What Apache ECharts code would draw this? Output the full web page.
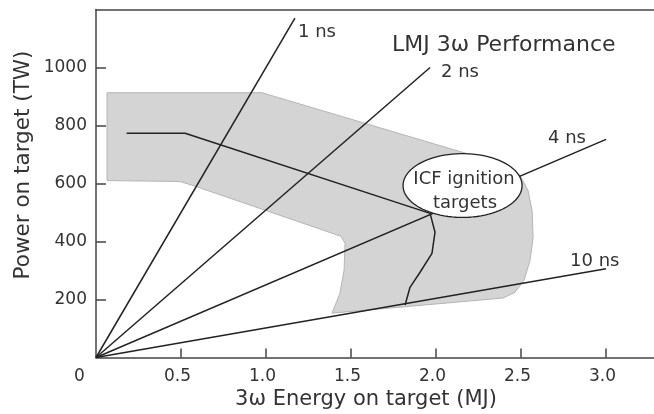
<!DOCTYPE html>
<html><head><meta charset="utf-8">
<script src="https://cdn.jsdelivr.net/npm/echarts@6/dist/echarts.min.js"></script>
<style>html,body{margin:0;padding:0;background:#fff}#c{width:654px;height:414px}</style>
</head><body><div id="c"></div>
<script>
// ---- data ----
const xTickValues = [0.5, 1.0, 1.5, 2.0, 2.5, 3.0];
const xTickLabels = ['0.5', '1.0', '1.5', '2.0', '2.5', '3.0'];
const yTickValues = [200, 400, 600, 800, 1000];
const yTickLabels = ['200', '400', '600', '800', '1000'];
const nsLabels = ['1 ns', '2 ns', '4 ns', '10 ns'];
const nsEndX = [1.17, 1.965, 3.0, 3.0];
const nsEndY = [1170, 1000, 752, 306];
// shaded LMJ performance envelope (outline)
const bandX = [0.065, 0.976, 2.182, 2.406, 2.494, 2.541, 2.565, 2.571, 2.553, 2.518, 2.465, 2.394, 1.388, 1.435, 1.459, 1.465, 1.441, 1.406, 0.571, 0.494, 0.065];
const bandY = [913, 913, 703, 664, 628, 576, 507, 414, 335, 267, 225, 205, 153, 222, 301, 394, 418, 425, 593, 607, 610];
// nominal performance curve
const curveX = [0.18, 0.524, 1.965, 1.994, 1.976, 1.906, 1.847, 1.818];
const curveY = [773, 773, 497, 432, 359, 294, 242, 181];
// ICF ignition target zone (ellipse centre and radii)
const icfCenter = [2.156, 593];
const icfRadius = [0.35, 110];
const icfText = ['ICF ignition', 'targets'];
const titleText = 'LMJ 3\u03c9 Performance';
const xName = '3\u03c9 Energy on target (MJ)';
const yName = 'Power on target (TW)';

const FONT = 'DejaVu Sans';
const TXT = '#333';
const XMAX = 3.282;
const chart = echarts.init(document.getElementById('c'), null, {renderer: 'canvas'});

const nsSeries = nsLabels.map((n, i) => ({
  type: 'line', name: n, data: [[0, 0], [nsEndX[i], nsEndY[i]]],
  symbol: 'none', lineStyle: {color: '#222', width: 1.5}, z: 3, silent: true
}));

const option = {
  animation: false,
  grid: {left: 96, right: 0, top: 9.5, bottom: 56.5},
  xAxis: [{
    type: 'value', min: 0, max: XMAX,
    axisLine: {lineStyle: {color: '#444', width: 1.5}},
    axisTick: {inside: true, length: 9, customValues: xTickValues, lineStyle: {color: '#444', width: 1.5}},
    axisLabel: {
      margin: 11, color: TXT, fontFamily: FONT, fontSize: 17,
      padding: [0, 7, 0, 0], customValues: xTickValues,
      formatter: v => { const i = xTickValues.findIndex(t => Math.abs(t - v) < 1e-6); return i >= 0 ? xTickLabels[i] : ''; }
    },
    splitLine: {show: false}
  }, {
    type: 'value', position: 'top', min: 0, max: XMAX,
    axisLine: {show: true, lineStyle: {color: '#444', width: 1.5}},
    axisTick: {show: false}, axisLabel: {show: false}, splitLine: {show: false}
  }],
  yAxis: {
    type: 'value', min: 0, max: 1200,
    axisLine: {lineStyle: {color: '#444', width: 1.5}},
    axisTick: {inside: true, length: 10, customValues: yTickValues, lineStyle: {color: '#444', width: 1.5}},
    axisLabel: {
      margin: 9, color: TXT, fontFamily: FONT, fontSize: 17, customValues: yTickValues,
      formatter: v => { const i = yTickValues.findIndex(t => Math.abs(t - v) < 1e-6); return i >= 0 ? yTickLabels[i] : ''; }
    },
    splitLine: {show: false}
  },
  series: [
    {
      type: 'custom', name: 'envelope', data: [0], z: 1, silent: true,
      renderItem: (params, api) => ({
        type: 'polygon',
        shape: {points: bandX.map((x, i) => api.coord([x, bandY[i]]))},
        style: {fill: '#d4d4d4', stroke: '#b4b4b4', lineWidth: 1}
      })
    },
    ...nsSeries,
    {
      type: 'line', name: 'performance', data: curveX.map((x, i) => [x, curveY[i]]),
      symbol: 'none', lineStyle: {color: '#222', width: 1.5}, z: 3, silent: true
    },
    {
      type: 'custom', name: 'icf', data: [0], z: 5, silent: true,
      renderItem: (params, api) => {
        const c = api.coord(icfCenter);
        const s = api.size([icfRadius[0], icfRadius[1]]);
        const pts = [];
        for (let k = 0; k < 90; k++) {
          const a = k / 90 * Math.PI * 2;
          pts.push([c[0] + s[0] * Math.cos(a), c[1] + s[1] * Math.sin(a)]);
        }
        return {type: 'polygon', shape: {points: pts}, style: {fill: '#fff', stroke: '#222', lineWidth: 1.3}};
      }
    }
  ],
  graphic: [
    {type: 'text', left: 74, top: 368, z: 10, style: {text: '0', fontFamily: FONT, fontSize: 17, fill: TXT}},
    {type: 'text', x: 366, y: 400, z: 10, style: {text: xName, fontFamily: FONT, fontSize: 21, fill: TXT, align: 'center', verticalAlign: 'middle'}},
    {type: 'text', x: 23, y: 165, rotation: Math.PI / 2, z: 10, style: {text: yName, fontFamily: FONT, fontSize: 21.5, fill: TXT, align: 'center', verticalAlign: 'middle'}},
    {type: 'text', x: 392, y: 45, z: 10, style: {text: titleText, fontFamily: FONT, fontSize: 22, fill: TXT, align: 'left', verticalAlign: 'middle'}},
    {type: 'text', x: 298, y: 32, z: 10, style: {text: nsLabels[0], fontFamily: FONT, fontSize: 18, fill: TXT, align: 'left', verticalAlign: 'middle'}},
    {type: 'text', x: 441, y: 72, z: 10, style: {text: nsLabels[1], fontFamily: FONT, fontSize: 18, fill: TXT, align: 'left', verticalAlign: 'middle'}},
    {type: 'text', x: 548, y: 138, z: 10, style: {text: nsLabels[2], fontFamily: FONT, fontSize: 18, fill: TXT, align: 'left', verticalAlign: 'middle'}},
    {type: 'text', x: 570, y: 261, z: 10, style: {text: nsLabels[3], fontFamily: FONT, fontSize: 18, fill: TXT, align: 'left', verticalAlign: 'middle'}},
    {type: 'text', x: 464, y: 179, z: 10, style: {text: icfText[0], fontFamily: FONT, fontSize: 18, fill: TXT, align: 'center', verticalAlign: 'middle'}},
    {type: 'text', x: 465, y: 203, z: 10, style: {text: icfText[1], fontFamily: FONT, fontSize: 18, fill: TXT, align: 'center', verticalAlign: 'middle'}}
  ]
};
chart.setOption(option);
</script>
</body></html>
